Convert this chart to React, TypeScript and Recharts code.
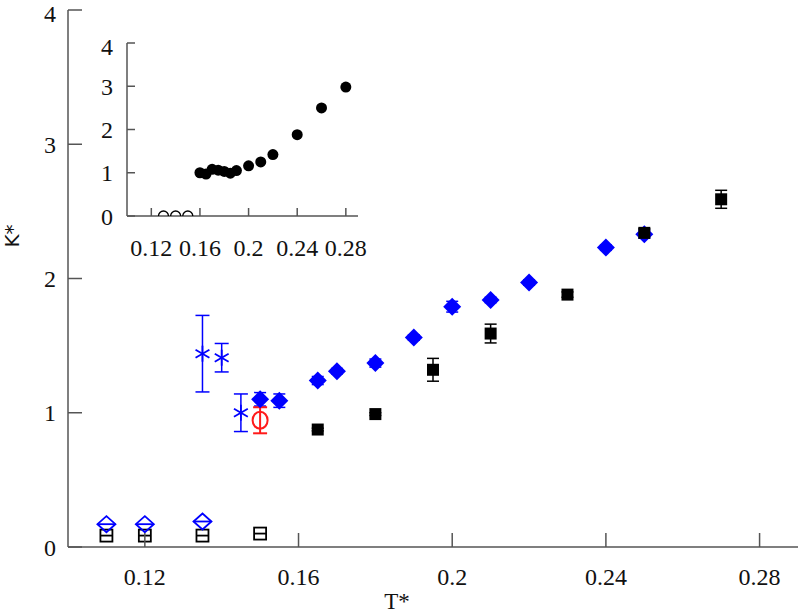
import React from "react";
import { ScatterChart, Scatter, XAxis, YAxis, ErrorBar } from "recharts";

// main panel: kappa* vs T*
const X_TICKS = [0.12, 0.16, 0.2, 0.24, 0.28];
const Y_TICKS = [0, 1, 2, 3, 4];

const diamondT = [0.15, 0.155, 0.165, 0.17, 0.18, 0.19, 0.2, 0.21, 0.22, 0.24, 0.25];
const diamondK = [1.1, 1.09, 1.24, 1.31, 1.37, 1.56, 1.79, 1.84, 1.97, 2.23, 2.33];
const diamondErr = [0.05, 0.05, 0.03, 0.02, 0.03, 0.02, 0.04, 0.02, 0.02, 0.02, 0.03];

const squareT = [0.165, 0.18, 0.195, 0.21, 0.23, 0.25, 0.27];
const squareK = [0.875, 0.99, 1.32, 1.59, 1.88, 2.34, 2.59];
const squareErr = [0.01, 0.01, 0.085, 0.07, 0.02, 0.03, 0.067];

const starT = [0.135, 0.14, 0.145];
const starK = [1.44, 1.41, 1.0];
const starErr = [0.285, 0.106, 0.14];

const circleT = [0.15];
const circleK = [0.944];
const circleErr = [0.097];

const openDiamondT = [0.11, 0.12, 0.135];
const openDiamondK = [0.17, 0.17, 0.19];

const openSquareT = [0.11, 0.12, 0.135, 0.15];
const openSquareK = [0.085, 0.085, 0.085, 0.1];

// inset
const insetT = [0.16, 0.165, 0.17, 0.175, 0.18, 0.185, 0.19, 0.2, 0.21, 0.22, 0.24, 0.26, 0.28];
const insetK = [1.0, 0.97, 1.08, 1.06, 1.03, 0.99, 1.05, 1.16, 1.25, 1.42, 1.88, 2.5, 2.98];
const insetOpenT = [0.13, 0.14, 0.15];
const insetOpenK = [0, 0, 0];

const BLUE = "#0000ff";
const RED = "#ff1a1a";
const AXIS = "#555";
const FONT = "'Liberation Serif', 'Times New Roman', serif";

const zip = (xs: number[], ys: number[], errs?: number[]) =>
  xs.map((x, i) => ({ x, y: ys[i], err: errs ? errs[i] : 0 }));

const fmt = (v: number) => String(+v.toFixed(2));

// inward ticks drawn by hand, label kept outside
const makeTick = (side: string, margin: number, len: number, showLabel: boolean, fontSize: number) =>
  (props: any) => {
    const { x, y, payload } = props;
    let line = null;
    let label = null;
    if (side === "bottom") {
      line = <line x1={x} y1={y - margin} x2={x} y2={y - margin - len} stroke={AXIS} strokeWidth={1.5} />;
      label = <text x={x} y={y} dy="0.35em" textAnchor="middle" fontSize={fontSize} fontFamily={FONT} fill="#111">{fmt(payload.value)}</text>;
    } else if (side === "top") {
      line = <line x1={x} y1={y + margin} x2={x} y2={y + margin + len} stroke={AXIS} strokeWidth={1.5} />;
    } else if (side === "left") {
      line = <line x1={x + margin} y1={y} x2={x + margin + len} y2={y} stroke={AXIS} strokeWidth={1.5} />;
      // topmost label nudged down a little so it stays on the page
      const dy = payload.value === Y_TICKS[Y_TICKS.length - 1] ? "0.5em" : "0.36em";
      label = <text x={x} y={y} dy={dy} textAnchor="end" fontSize={fontSize} fontFamily={FONT} fill="#111">{fmt(payload.value)}</text>;
    } else {
      line = <line x1={x - margin} y1={y} x2={x - margin - len} y2={y} stroke={AXIS} strokeWidth={1.5} />;
    }
    return (
      <g>
        {line}
        {showLabel && label}
      </g>
    );
  };

const Diamond = ({ cx, cy }: any) => (
  <path d={`M${cx},${cy - 9} L${cx + 9},${cy} L${cx},${cy + 9} L${cx - 9},${cy} Z`} fill={BLUE} />
);

const OpenDiamond = ({ cx, cy }: any) => (
  <g fill="none" stroke={BLUE} strokeWidth={1.8}>
    <path d={`M${cx},${cy - 8} L${cx + 9},${cy} L${cx},${cy + 8} L${cx - 9},${cy} Z`} />
    <line x1={cx - 9} y1={cy} x2={cx + 9} y2={cy} />
  </g>
);

const Square = ({ cx, cy }: any) => <rect x={cx - 6} y={cy - 6} width={12} height={12} fill="#000" />;

const OpenSquare = ({ cx, cy }: any) => (
  <g fill="none" stroke="#000" strokeWidth={1.8}>
    <rect x={cx - 6} y={cy - 6} width={12} height={12} />
    <line x1={cx - 6} y1={cy} x2={cx + 6} y2={cy} />
  </g>
);

const Star = ({ cx, cy }: any) => {
  const r = 8;
  const a = r * Math.cos(Math.PI / 6);
  const b = r * Math.sin(Math.PI / 6);
  return (
    <g stroke={BLUE} strokeWidth={1.8}>
      <line x1={cx} y1={cy - r} x2={cx} y2={cy + r} />
      <line x1={cx - a} y1={cy - b} x2={cx + a} y2={cy + b} />
      <line x1={cx - a} y1={cy + b} x2={cx + a} y2={cy - b} />
    </g>
  );
};

const OpenCircle = ({ cx, cy }: any) => (
  <ellipse cx={cx} cy={cy} rx={7.5} ry={8.5} fill="none" stroke={RED} strokeWidth={2} />
);

const Dot = ({ cx, cy }: any) => <circle cx={cx} cy={cy} r={5.5} fill="#000" />;
const Ring = ({ cx, cy }: any) => <circle cx={cx} cy={cy} r={5} fill="none" stroke="#000" strokeWidth={1.3} />;

const axisLine = { stroke: AXIS, strokeWidth: 1.5 };

const Frame = (fontSize: number, len: number, xMargin: number, yMargin: number, xHeight: number, yWidth: number) => [
  <XAxis key="b" type="number" dataKey="x" domain={[0.1, 0.29]} ticks={X_TICKS} interval={0}
    allowDataOverflow height={xHeight} tickSize={0} tickMargin={xMargin} tickLine={false} axisLine={axisLine}
    tick={makeTick("bottom", xMargin, len, true, fontSize)} />,
  <XAxis key="t" xAxisId="top" orientation="top" type="number" dataKey="x" domain={[0.1, 0.29]} ticks={X_TICKS}
    interval={0} allowDataOverflow height={0} tickSize={0} tickMargin={0} tickLine={false} axisLine={axisLine}
    tick={makeTick("top", 0, len, false, fontSize)} />,
  <YAxis key="l" type="number" dataKey="y" domain={[0, 4]} ticks={Y_TICKS} interval={0}
    allowDataOverflow width={yWidth} tickSize={0} tickMargin={yMargin} tickLine={false} axisLine={axisLine}
    tick={makeTick("left", yMargin, len, true, fontSize)} />,
  <YAxis key="r" yAxisId="right" orientation="right" type="number" dataKey="y" domain={[0, 4]} ticks={Y_TICKS}
    interval={0} allowDataOverflow width={0} tickSize={0} tickMargin={0} tickLine={false} axisLine={axisLine}
    tick={makeTick("right", 0, len, false, fontSize)} />,
];

export default function App() {
  return (
    <div style={{ position: "fixed", left: 0, top: 0, width: 800, height: 614, background: "#fff" }}>
      <ScatterChart width={800} height={614} margin={{ top: 10, right: 2, bottom: 0, left: 0 }}>
        {Frame(24, 14, 30, 12, 67, 68)}
        <Scatter data={zip(diamondT, diamondK, diamondErr)} shape={Diamond} isAnimationActive={false}>
          <ErrorBar dataKey="err" direction="y" width={6} stroke={BLUE} strokeWidth={1.5} />
        </Scatter>
        <Scatter data={zip(squareT, squareK, squareErr)} shape={Square} isAnimationActive={false}>
          <ErrorBar dataKey="err" direction="y" width={6} stroke="#000" strokeWidth={1.5} />
        </Scatter>
        <Scatter data={zip(openSquareT, openSquareK)} shape={OpenSquare} isAnimationActive={false} />
        <Scatter data={zip(openDiamondT, openDiamondK)} shape={OpenDiamond} isAnimationActive={false} />
        <Scatter data={zip(starT, starK, starErr)} shape={Star} isAnimationActive={false}>
          <ErrorBar dataKey="err" direction="y" width={7} stroke={BLUE} strokeWidth={1.5} />
        </Scatter>
        <Scatter data={zip(circleT, circleK, circleErr)} shape={OpenCircle} isAnimationActive={false}>
          <ErrorBar dataKey="err" direction="y" width={7} stroke={RED} strokeWidth={2} />
        </Scatter>
      </ScatterChart>

      <div style={{ position: "absolute", left: 80, top: 18 }}>
        <ScatterChart width={290} height={255} margin={{ top: 25, right: 12, bottom: 0, left: 0 }}>
          {Frame(24, 8, 32, 14, 57, 47)}
          <Scatter data={zip(insetOpenT, insetOpenK)} shape={Ring} isAnimationActive={false} />
          <Scatter data={zip(insetT, insetK)} shape={Dot} isAnimationActive={false} />
        </ScatterChart>
      </div>

      <div style={{ position: "absolute", left: 397, top: 601, transform: "translate(-50%, -50%)",
        fontFamily: FONT, fontSize: 23, color: "#111", whiteSpace: "nowrap", lineHeight: 1 }}>
        T*
      </div>
      <div style={{ position: "absolute", left: 12, top: 236, transform: "translate(-50%, -50%) rotate(-90deg)",
        fontFamily: "'DejaVu Sans', sans-serif", fontSize: 20, color: "#111", whiteSpace: "nowrap", lineHeight: 1 }}>
        K*
      </div>
    </div>
  );
}
